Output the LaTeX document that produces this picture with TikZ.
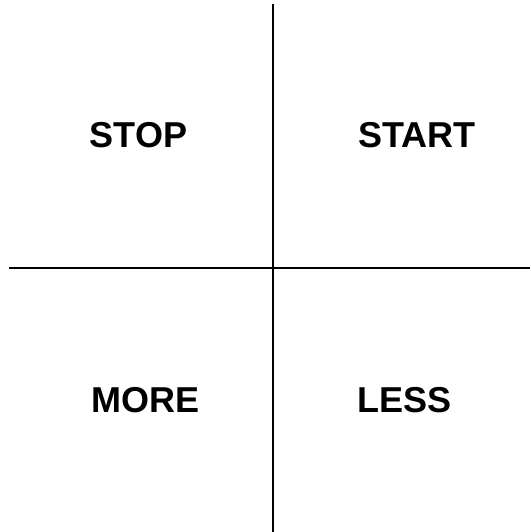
\documentclass[tikz,border=0pt]{standalone}
\usepackage{fontspec}
\setmainfont{Liberation Sans}
\begin{document}
\begin{tikzpicture}[x=1pt,y=1pt,
  lbl/.style={anchor=base,inner sep=0pt,font=\fontsize{36}{40}\selectfont\bfseries},
  axis/.style={line width=2pt,black}]
\useasboundingbox (0,0) rectangle (530,532);
\coordinate (vt) at (273,528);
\coordinate (vb) at (273,0);
\coordinate (hl) at (9,263.7);
\coordinate (hr) at (530,263.7);
\draw[axis] (vt) -- (vb);
\draw[axis] (hl) -- (hr);
\node[lbl] (stop) at (138.5,384.5) {STOP};
\node[lbl] (start) at (416.7,384.5) {START};
\node[lbl] (more) at (145.3,119.3) {MORE};
\node[lbl] (less) at (404.2,119.3) {LESS};
\end{tikzpicture}
\end{document}
